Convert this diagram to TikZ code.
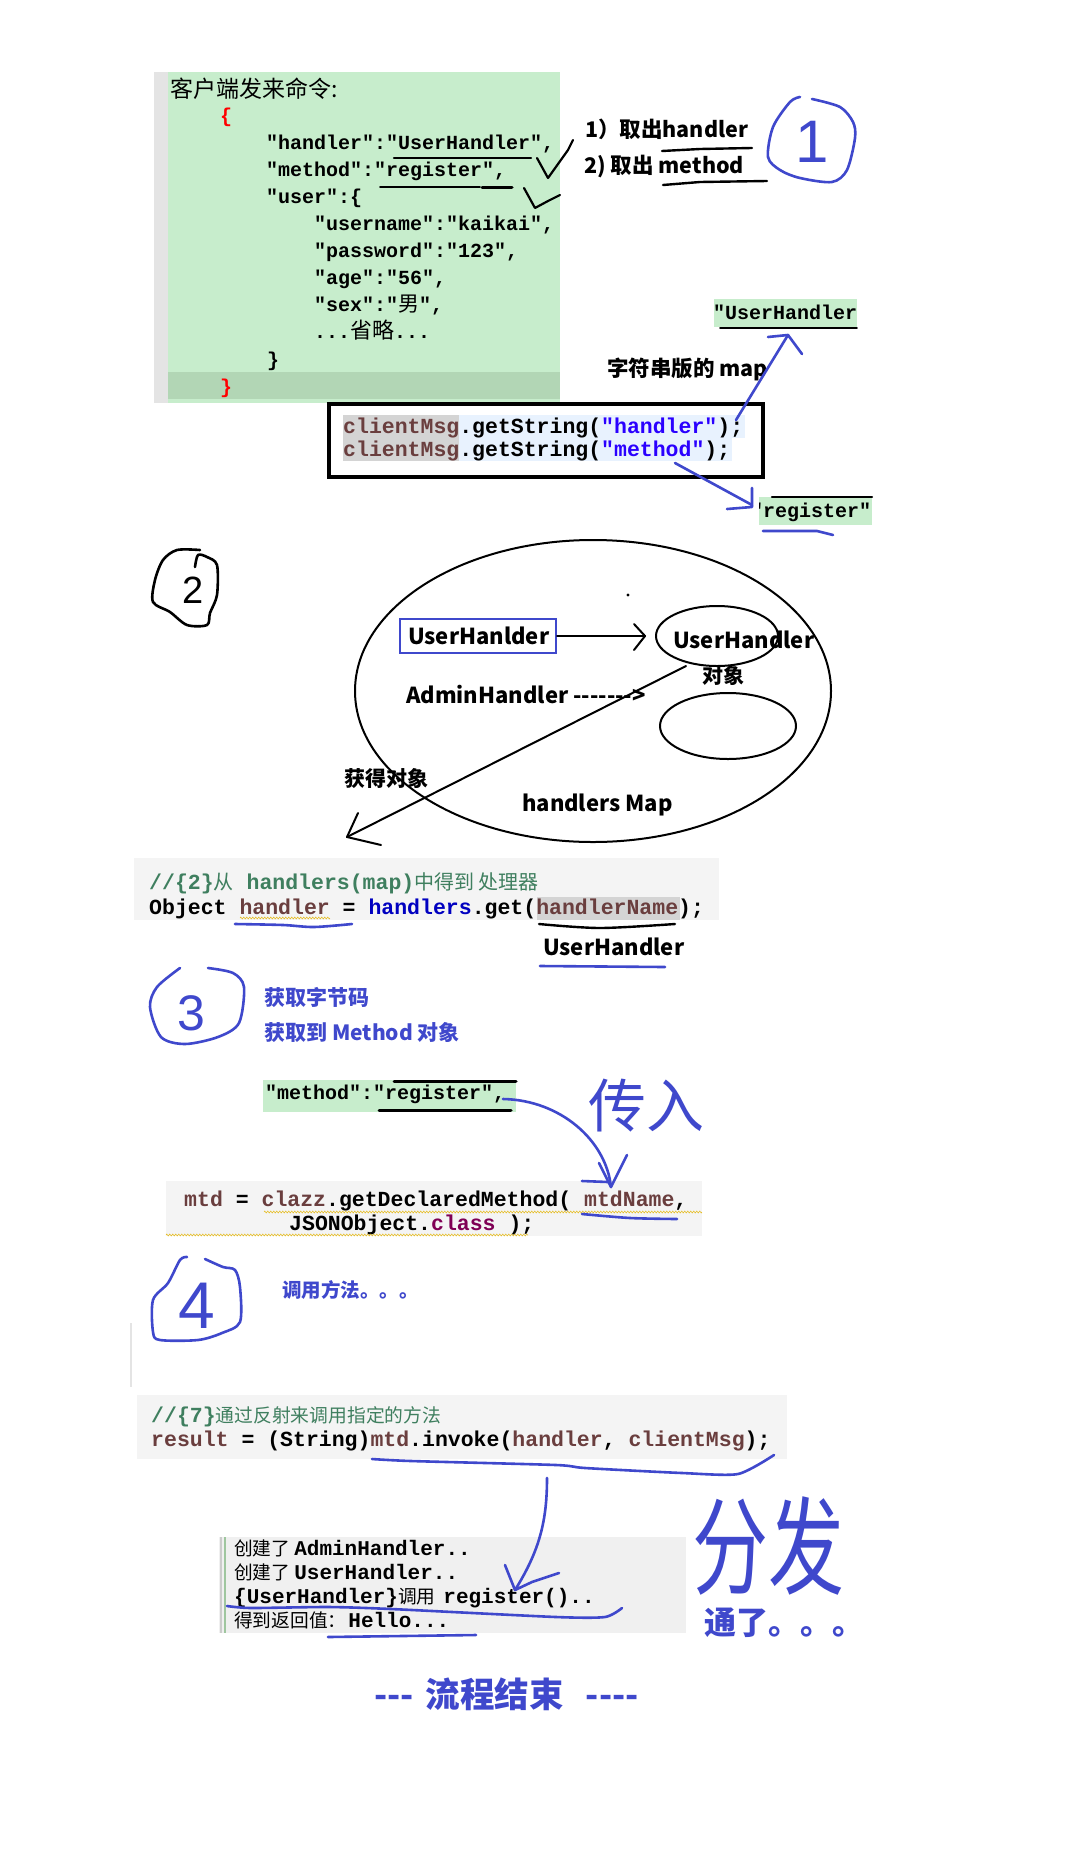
\documentclass[tikz,border=0pt]{standalone}
\usepackage{fontspec}
\usetikzlibrary{decorations.pathmorphing,shapes.geometric}
\newfontfamily\cjk{Noto Sans CJK SC}[Ligatures=TeXOff]
\newfontfamily\mono{Liberation Mono}[Ligatures=TeXOff]
\newfontfamily\lsans{Liberation Sans}
\definecolor{hb}{RGB}{63,72,204}
\definecolor{gbg}{RGB}{199,237,204}
\definecolor{gdk}{RGB}{178,214,181}
\definecolor{gstrip}{RGB}{228,228,228}
\definecolor{cbg}{RGB}{244,244,244}
\definecolor{conbg}{RGB}{240,240,240}
\definecolor{brn}{RGB}{106,62,62}
\definecolor{fld}{RGB}{0,0,192}
\definecolor{strb}{RGB}{42,0,255}
\definecolor{kwp}{RGB}{127,0,85}
\definecolor{cmt}{RGB}{63,127,95}
\definecolor{hlg}{RGB}{212,212,212}
\definecolor{lbl}{RGB}{232,242,254}
\definecolor{sq}{RGB}{230,190,40}
\newcommand\fs[1]{\fontsize{#1}{#1}\selectfont}
\newcommand\cj[2]{{\cjk\fs{#1}#2}}
\newcommand\cjb[2]{{\cjk\bfseries\fs{#1}#2}}
\newcommand\mo[2]{{\mono\bfseries\fs{#1}#2}}
\begin{document}
\begin{tikzpicture}[x=1pt,y=-1pt,
  txt/.style={inner sep=0pt,anchor=base west},
  hand/.style={draw=hb,line width=2.6pt,line cap=round,line join=round},
  handk/.style={draw=black,line width=2.6pt,line cap=round,line join=round},
  squig/.style={draw=sq,line width=0.6pt,decorate,decoration={zigzag,amplitude=0.9pt,segment length=3pt}},
  oval/.style={draw,ellipse,line width=2pt,inner sep=0pt}]
\useasboundingbox (0,0) rectangle (1084,1876);
\fill[white] (0,0) rectangle (1084,1876);

%% ---------------- part 1: JSON ----------------
\fill[gstrip] (154,72) rectangle (168,403);
\fill[gbg] (168,72) rectangle (560,403);
\fill[gdk] (168,372) rectangle (560,399);
\node[txt] (title) at (170,97) {\cj{23}{客户端发来命令:}};
\node[txt,text=red] (ob) at (220,122) {\mo{20}{\{}};
\node[txt] (jh) at (266,149) {\mo{20}{"handler":"UserHandler",}};
\node[txt] (jm) at (266,176) {\mo{20}{"method":"register",}};
\node[txt] (ju) at (266,203) {\mo{20}{"user":\{}};
\node[txt] (jun) at (314,230) {\mo{20}{"username":"kaikai",}};
\node[txt] (jpw) at (314,257) {\mo{20}{"password":"123",}};
\node[txt] (jag) at (314,284) {\mo{20}{"age":"56",}};
\node[txt] (jsx) at (314,311) {\mo{20}{"sex":"}\cj{21}{男}\mo{20}{",}};
\node[txt] (jom) at (314,338) {\mo{20}{...}\cj{22}{省略}\mo{20}{...}};
\node[txt] (jcb) at (267,366) {\mo{20}{\}}};
\node[txt,text=red] (cb) at (220,393) {\mo{20}{\}}};
% underlines and checks
\draw[handk,line width=2.2pt] (394,158) -- (531,158);
\draw[handk,line width=1.6pt] (380,187) -- (480,187);
\draw[handk,line width=3pt] (482,187) -- (512,187);
\draw[handk,line width=2.2pt] (537,158) -- (548,178) -- (568,150) -- (573,140);
\draw[handk,line width=2.2pt] (524,188) -- (535,208) -- (548,201) -- (560,195);

\node[txt] (t1) at (585,137) {\cjb{21.5}{1）取出handler}};
\node[txt] (t2) at (584,173) {\cjb{21.5}{2) 取出 method}};
\draw[handk,line width=2.4pt] (662,151) -- (700,149) -- (752,148);
\draw[handk,line width=2.4pt] (663,185) -- (700,182) -- (767,181);
% circle 1
\draw[hand] plot[smooth,tension=0.5] coordinates {(800,97) (790,102) (773,127) (768,157) (780,170) (800,178) (832,182) (847,170) (855,138) (853,122) (840,107) (812,99)};
\node[text=hb,inner sep=0pt] (n1) at (812,142) {\lsans\fs{60}1};

% green "UserHandler"
\fill[gbg] (714,299) rectangle (857,327);
\begin{scope}
\clip (714,299) rectangle (857,327);
\node[txt] (guh) at (713,319) {\mo{20}{"UserHandler"}};
\end{scope}
\draw[handk,line width=1.8pt] (720,328) -- (857,328);
\node[txt] (strmap) at (607,376) {\cjb{21.5}{字符串版的 map}};

% clientMsg box
\fill[hlg] (343,415) rectangle (459,461);
\fill[lbl] (459,415) rectangle (745,438);
\fill[lbl] (459,438) rectangle (732,461);
\node[txt] (cm1) at (343,433) {\mo{21.5}{\textcolor{brn}{clientMsg}.getString(\textcolor{strb}{"handler"});}};
\node[txt] (cm2) at (343,456) {\mo{21.5}{\textcolor{brn}{clientMsg}.getString(\textcolor{strb}{"method"});}};
\node[draw,line width=3.5pt,inner sep=0pt,minimum width=434pt,minimum height=73pt] (cmbox) at (546,440.5) {};

% green "register"
\fill[gbg] (759,497) rectangle (872,525);
\begin{scope}
\clip (759,497) rectangle (872,525);
\node[txt] (greg) at (751,517) {\mo{20}{"register"}};
\end{scope}
\draw[handk,line width=2.4pt] (772,497) -- (872,497);
\draw[hand] (763,531) -- (817,531) -- (833,535);

% blue arrows from clientMsg box
\coordinate (a1s) at (736,420);
\coordinate (a1t) at (788,335);
\draw[hand] (a1s) -- (a1t);
\draw[hand] (768,337) -- (a1t) -- (802,354);
\coordinate (a2s) at (675,463);
\coordinate (a2t) at (752,505);
\draw[hand] (a2s) -- (a2t);
\draw[hand] (752,488) -- (752,507) -- (727,509);

%% ---------------- part 2: handlers map ----------------
\draw[handk] plot[smooth,tension=0.5] coordinates {(200,550) (177,550) (163,560) (155,580) (153,602) (170,612) (187,625) (207,625) (210,613) (217,595) (217,565) (207,557) (198,555) (195,567)};
\node[inner sep=0pt] (n2) at (193,590) {\lsans\fs{38}2};

\node[oval,minimum width=476pt,minimum height=302pt] (map) at (593,691) {};
\node[oval,minimum width=122pt,minimum height=60pt] (uo) at (717,636) {};
\node[oval,minimum width=136pt,minimum height=66pt] (ao) at (728,726) {};
\fill (628,595) circle (1.6pt);
\node[draw=hb,line width=2pt,inner sep=0pt,minimum width=156pt,minimum height=34pt] (ubox) at (478,636) {};
\node[txt] (uhl) at (408,644) {\cjb{22}{UserHanlder}};
\coordinate (uat) at (645,636);
\draw[handk,line width=2pt] (ubox.east) -- (uat);
\draw[handk,line width=2pt] (634,624) -- (uat) -- (634,650);
\node[txt] (uht) at (673,648) {\cjb{22}{UserHandler}};
\node[txt] (dx) at (702,683) {\cjb{21}{对象}};
\node[txt] (adm) at (406,703) {\cjb{22}{AdminHandler ------->}};
\node[txt] (hmap) at (522,811) {\cjb{22}{handlers Map}};
\node[txt] (hdx) at (344,786) {\cjb{21}{获得对象}};
\coordinate (ds) at (686,666);
\coordinate (dt) at (347,837);
\draw[handk,line width=2pt] (ds) -- (dt);
\draw[handk,line width=2pt] (358,813) -- (dt) -- (381,845);

%% ---------------- code: handlers.get ----------------
\fill[cbg] (134,858) rectangle (719,920);
\fill[hlg] (537,897) rectangle (680,920);
\node[txt,text=cmt] (cm3) at (149,889) {\mo{21.5}{//\{2\}}\cj{20}{从}\mo{21.5}{ handlers(map)}\cj{20}{中得到 处理器}};
\node[txt] (obj) at (149,914) {\mo{21.5}{Object \textcolor{brn}{handler} = \textcolor{fld}{handlers}.get(\textcolor{brn}{handlerName});}};
\draw[squig] (240,918) -- (330,918);
\draw[hand] plot[smooth] coordinates {(235,924) (283,925) (314,927) (352,924)};
\draw[handk,line width=2.4pt] plot[smooth] coordinates {(539,924) (600,928) (675,924)};
\node[txt] (uh2) at (543,955) {\cjb{22}{UserHandler}};
\draw[hand] (540,966) -- (665,967);

%% ---------------- part 3 ----------------
\draw[hand] plot[smooth,tension=0.5] coordinates {(208,968) (233,973) (244,987) (239,1023) (218,1037) (185,1044) (161,1037) (150,1007) (157,987) (180,968)};
\node[text=hb,inner sep=0pt] (n3) at (191,1013) {\lsans\fs{50}3};
\node[txt,text=hb] (zj) at (264,1005) {\cjb{21}{获取字节码}};
\node[txt,text=hb] (md) at (264,1040) {\cjb{21}{获取到 Method 对象}};

\fill[gbg] (263,1080) rectangle (516,1112);
\node[txt] (mr) at (265,1099) {\mo{20}{"method":"register",}};
\draw[handk,line width=3pt] (394,1081) -- (516,1081);
\draw[handk,line width=3pt] (379,1110) -- (511,1110);
\node[text=hb,inner sep=0pt] (cr) at (646,1106) {\cj{58}{传入}};

\fill[cbg] (166,1181) rectangle (702,1236);
\node[txt] (gm1) at (184,1206) {\mo{21.5}{\textcolor{brn}{mtd} = \textcolor{brn}{clazz}.getDeclaredMethod( \textcolor{brn}{mtdName},}};
\node[txt] (gm2) at (289,1230) {\mo{21.5}{JSONObject.\textcolor{kwp}{class} );}};
\draw[squig] (264,1212) -- (702,1212);
\draw[squig] (166,1235) -- (528,1235);
\draw[hand] (582,1181) -- (608,1182);
\draw[hand] plot[smooth] coordinates {(582,1214) (630,1218) (677,1219)};
\coordinate (crs) at (503,1099);
\coordinate (crt) at (611,1187);
\draw[hand] (crs) .. controls (560,1100) and (606,1140) .. (crt);
\draw[hand] (599,1163) -- (crt) -- (627,1155);

%% ---------------- part 4 ----------------
\draw[hand] plot[smooth,tension=0.5] coordinates {(187,1257) (180,1260) (168,1283) (153,1300) (153,1332) (160,1340) (198,1340) (222,1333) (240,1322) (240,1287) (235,1270) (223,1267) (205,1259)};
\node[text=hb,inner sep=0pt] (n4) at (197,1306) {\lsans\fs{66}4};
\node[txt,text=hb] (dy) at (282,1297) {\cjb{19.5}{调用方法。。。}};
\draw[gstrip,line width=2pt] (131,1323) -- (131,1387);

\fill[cbg] (137,1395) rectangle (787,1459);
\node[txt,text=cmt] (cm7) at (151,1422) {\mo{21.5}{//\{7\}}\cj{18.8}{通过反射来调用指定的方法}};
\node[txt] (res) at (151,1446) {\mo{21.5}{\textcolor{brn}{result} = (String)\textcolor{brn}{mtd}.invoke(\textcolor{brn}{handler}, \textcolor{brn}{clientMsg});}};
\draw[hand] plot[smooth,tension=0.4] coordinates {(372,1459) (411,1461) (556,1465) (585,1468) (682,1473) (738,1474) (774,1455)};

% console
\fill[conbg] (219,1537) rectangle (686,1633);
\draw[gray!40,line width=1.5pt] (221,1537) -- (221,1633);
\draw[green!25!gray!60,line width=1.5pt] (225,1537) -- (225,1633);
\node[txt] (o1) at (234,1555) {\cj{18.7}{创建了}\hspace{4pt}\mo{21}{AdminHandler..}};
\node[txt] (o2) at (234,1579) {\cj{18.7}{创建了}\hspace{4pt}\mo{21}{UserHandler..}};
\node[txt] (o3) at (234,1603) {\mo{21}{\{UserHandler\}}\cj{18.7}{调用}\hspace{8pt}\mo{21}{register()..}};
\node[txt] (o4) at (234,1627) {\cj{18.7}{得到返回值：}\hspace{2pt}\mo{21}{Hello...}};
\draw[hand] plot[smooth,tension=0.4] coordinates {(227,1606) (251,1608) (328,1607) (391,1609) (556,1617) (605,1617) (622,1608)};
\draw[hand] (328,1637) -- (476,1635);
\coordinate (vs) at (547,1478);
\coordinate (vt) at (515,1590);
\draw[hand] (vs) .. controls (547,1520) and (540,1550) .. (vt);
\draw[hand] (505,1565) -- (vt) -- (532,1582) -- (559,1573);

\node[text=hb,inner sep=0pt] (ff) at (768,1546) {\scalebox{1}[1.4]{\cj{76}{分发}}};
\node[txt,text=hb] (tl) at (704,1634) {\cjb{32}{通了。。。}};
\node[txt,text=hb] (end) at (374,1707) {\cjb{34.5}{---\hspace{12pt}流程结束\hspace{22pt}----}};
\end{tikzpicture}
\end{document}
